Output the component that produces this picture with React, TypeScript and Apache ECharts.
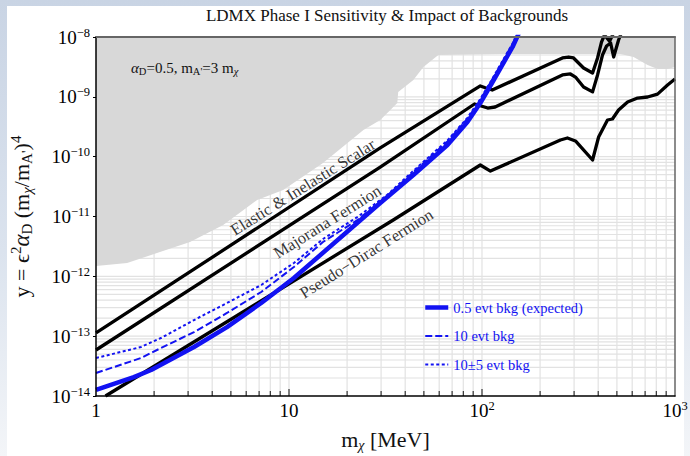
import React, { useEffect, useRef } from "react";
import * as echarts from "echarts";

const FONT = '"Liberation Serif", "DejaVu Serif", serif';
const BLUE = "#1212f2";

const X_MIN = 1;
const X_MAX = 1000;
const Y_MIN = 1e-14;
const Y_MAX = 1e-8;

// Thermal-relic targets, [m_chi (MeV), y]
const scalarCurve: [number, number][] = [
  [1, 1.13e-13], [29.7, 1.4e-10], [98, 1.52e-9], [104, 1.42e-9], [113, 1.3e-9],
  [261, 4.46e-9], [281, 4.63e-9], [298, 4.46e-9], [336, 3.03e-9], [374, 2.5e-9],
  [397, 4.46e-9], [416, 8.24e-9], [431, 1.08e-8], [458, 8.5e-9], [481, 1.17e-8],
];

const majoranaCurve: [number, number][] = [
  [1, 5.87e-14], [29.7, 6.71e-11], [91.4, 7.59e-10], [98, 7.1e-10], [107, 6.5e-10],
  [117, 6.76e-10], [261, 2.32e-9], [287, 2.41e-9], [305, 2.14e-9], [336, 1.46e-9],
  [374, 1.21e-9], [397, 2.32e-9], [421, 5.0e-9], [442, 7.08e-9], [464, 7.94e-9],
  [481, 4.63e-9], [510, 8.91e-9], [535, 1.31e-8],
];

const pseudoDiracCurve: [number, number][] = [
  [1.12, 1.0e-14], [34.7, 8.73e-12], [98, 7.26e-11], [110.6, 5.75e-11], [255, 1.9e-10],
  [277, 2.05e-10], [305, 1.83e-10], [374, 8.79e-11], [402, 2.13e-10], [447, 4.1e-10],
  [474, 4.26e-10], [510, 6.02e-10], [568, 8.2e-10], [640, 9.55e-10], [721, 9.93e-10],
  [812, 1.11e-9], [915, 1.58e-9], [1000, 1.99e-9],
];

// LDMX Phase I reach for different background levels
const bkgHalfEvent: [number, number][] = [
  [1, 1.26e-14], [1.57, 2.07e-14], [1.93, 2.72e-14], [3.22, 6.59e-14], [4.77, 1.42e-13],
  [7.18, 3.58e-13], [10.6, 9.37e-13], [29.7, 1.68e-11], [44.1, 4.93e-11], [66.2, 1.57e-10],
  [84, 3.79e-10], [98, 7.88e-10], [115, 1.91e-9], [129, 3.67e-9], [144, 6.81e-9], [158, 1.31e-8],
];

const bkgTenEvents: [number, number][] = [
  [1, 2.42e-14], [1.71, 4.31e-14], [2.17, 6.34e-14], [3.22, 1.17e-13], [4.77, 2.44e-13],
  [7.18, 5.47e-13], [10.6, 1.43e-12], [15, 3.75e-12], [22.6, 8.73e-12], [32.3, 2.2e-11],
  [44.1, 5.5e-11], [66.2, 1.8e-10], [84, 4.3e-10], [98, 8.9e-10], [115, 2.15e-9],
  [129, 4.1e-9], [144, 7.6e-9], [158, 1.45e-8],
];

const bkgTenPmFive: [number, number][] = [
  [1, 4.31e-14], [1.71, 6.59e-14], [2.17, 9.31e-14], [3.22, 1.86e-13], [4.77, 3.58e-13],
  [7.18, 7.16e-13], [10.6, 1.67e-12], [15, 4.21e-12], [22.6, 9.8e-12], [32.3, 2.3e-11],
  [44.1, 5.8e-11], [66.2, 1.87e-10], [84, 4.45e-10], [98, 9.2e-10], [115, 2.2e-9],
  [129, 4.2e-9], [144, 7.8e-9], [158, 1.5e-8],
];

// Lower edge of the already-excluded region
const excludedRegion: [number, number][] = [
  [1, 1.49e-12], [1.45, 1.67e-12], [2.07, 2.45e-12], [3.07, 3.75e-12], [4.56, 7.21e-12],
  [6.84, 1.89e-11], [9.33, 2.77e-11], [15, 7.83e-11], [24.3, 2.79e-10], [29.7, 4.1e-10],
  [33.5, 6.02e-10], [36.4, 7.88e-10], [36.8, 1.21e-9], [44.1, 1.91e-9], [49.7, 3.15e-9],
  [59.4, 5.0e-9], [124, 5.2e-9], [522, 5.2e-9], [610, 4.63e-9], [721, 3.4e-9],
  [812, 2.92e-9], [915, 2.92e-9], [1000, 3.15e-9],
];

const curveLabels = [
  { text: "Elastic & Inelastic Scalar", at: [11.8, 3.1e-11] },
  { text: "Majorana Fermion", at: [15.8, 8.2e-12] },
  { text: "Pseudo\u2212Dirac Fermion", at: [25.2, 2.4e-12] },
];

const legendNames = ["0.5 evt bkg (expected)", "10 evt bkg", "10\u00b15 evt bkg"];
const legendWidths = [4.5, 2, 2];

const mantissas = [1, 2, 3, 4, 5, 6, 7, 8, 9];
const xDecades = [1, 10, 100];
const yDecades = [1e-14, 1e-13, 1e-12, 1e-11, 1e-10, 1e-9];

const xGridLines = xDecades
  .flatMap((d) => mantissas.map((m) => m * d))
  .filter((v) => v > X_MIN && v < X_MAX);
const yGridLines = yDecades
  .flatMap((d) => mantissas.map((m) => m * d))
  .filter((v) => v > Y_MIN * 1.0001 && v < Y_MAX * 0.9999);

const powerRich = {
  sup: { fontSize: 12.5, lineHeight: 12, verticalAlign: "top", fontFamily: FONT, color: "#000" },
};

function powerLabel(v: number): string {
  const e = Math.round(Math.log10(v));
  if (e === 0) return "1";
  if (e === 1) return "10";
  return "10{sup|" + String(e).replace("-", "\u2212") + "}";
}

function isDecade(v: number): boolean {
  const l = Math.log10(v);
  return Math.abs(l - Math.round(l)) < 1e-9;
}

function lineSeries(name: string, data: [number, number][], color: string, width: number, type: any, z: number) {
  return {
    type: "line",
    name,
    data,
    symbol: "none",
    showSymbol: false,
    clip: true,
    silent: true,
    z,
    itemStyle: { color },
    lineStyle: { color, width, type, cap: "butt", join: "round" },
  };
}

export default function App() {
  const ref = useRef<HTMLDivElement>(null);

  useEffect(() => {
    if (!ref.current) return;
    const chart = echarts.init(ref.current, undefined, { renderer: "svg" });

    const option: any = {
      animation: false,
      backgroundColor: "transparent",
      grid: { left: 96, right: 15, top: 37, bottom: 60, show: false, containLabel: false, outerBoundsMode: "none" },
      legend: {
        data: legendNames.map((name, i) => ({ name, lineStyle: { width: legendWidths[i] } })),
        orient: "vertical",
        left: 418,
        top: 295,
        itemWidth: 23,
        itemHeight: 14,
        itemGap: 13.5,
        selectedMode: false,
        itemStyle: { opacity: 0 },
        textStyle: { color: BLUE, fontFamily: FONT, fontSize: 14.5 },
      },
      xAxis: [
        {
          type: "log",
          logBase: 10,
          min: X_MIN,
          max: X_MAX,
          splitNumber: 3,
          z: 10,
          axisLine: { show: true, lineStyle: { color: "#000", width: 1.5 } },
          axisTick: { show: false },
          splitLine: { show: false },
          axisLabel: {
            formatter: powerLabel,
            margin: 3,
            fontFamily: FONT,
            fontSize: 19,
            lineHeight: 22,
            color: "#000",
            rich: powerRich,
          },
          name: "m{sub|\u03c7} [MeV]",
          nameLocation: "middle",
          nameGap: 30,
          nameTextStyle: {
            fontFamily: FONT,
            fontSize: 22,
            lineHeight: 26,
            color: "#111",
            rich: {
              sub: { fontSize: 14, lineHeight: 12, verticalAlign: "bottom", fontStyle: "italic", fontFamily: FONT, color: "#111" },
            },
          },
        },
        {
          type: "log",
          logBase: 10,
          min: X_MIN,
          max: X_MAX,
          position: "top",
          z: 10,
          axisLine: { show: true, lineStyle: { color: "#666", width: 2 } },
          axisTick: { show: false },
          axisLabel: { show: false },
          splitLine: { show: false },
        },
      ],
      yAxis: [
        {
          type: "log",
          logBase: 10,
          min: Y_MIN,
          max: Y_MAX,
          splitNumber: 6,
          z: 10,
          axisLine: { show: true, lineStyle: { color: "#000", width: 1.5 } },
          axisTick: { show: true, inside: false, length: 3, lineStyle: { color: "#000", width: 1 } },
          splitLine: { show: false },
          axisLabel: {
            formatter: powerLabel,
            margin: 6,
            fontFamily: FONT,
            fontSize: 19,
            lineHeight: 22,
            color: "#000",
            rich: powerRich,
          },
          name: "y = \u03f5{sup|2}{it|\u03b1}{sub|D} (m{subi|\u03c7}/m{sub|A'}){sup|4}",
          nameLocation: "middle",
          nameRotate: 90,
          nameGap: 62,
          nameTextStyle: {
            fontFamily: FONT,
            fontSize: 22,
            lineHeight: 26,
            color: "#111",
            rich: {
              sup: { fontSize: 15, lineHeight: 12, verticalAlign: "top", fontFamily: FONT, color: "#111" },
              sub: { fontSize: 15, lineHeight: 12, verticalAlign: "bottom", fontFamily: FONT, color: "#111" },
              subi: { fontSize: 15, lineHeight: 12, verticalAlign: "bottom", fontStyle: "italic", fontFamily: FONT, color: "#111" },
              it: { fontSize: 23, lineHeight: 26, fontStyle: "italic", fontFamily: FONT, color: "#111" },
            },
          },
        },
        {
          type: "log",
          logBase: 10,
          min: Y_MIN,
          max: Y_MAX,
          position: "right",
          z: 10,
          axisLine: { show: true, lineStyle: { color: "#666", width: 1.5 } },
          axisTick: { show: false },
          axisLabel: { show: false },
          splitLine: { show: false },
        },
      ],
      graphic: [
        {
          type: "text",
          x: 387,
          y: 15,
          silent: true,
          style: {
            text: "LDMX Phase I Sensitivity & Impact of Backgrounds",
            align: "center",
            verticalAlign: "middle",
            fontFamily: FONT,
            fontSize: 17,
            fill: "#111",
          },
        },
        {
          type: "text",
          x: 131,
          y: 68,
          silent: true,
          z: 20,
          style: {
            text: "{it|\u03b1}{sub|D}=0.5, m{sub|A'}=3 m{subi|\u03c7}",
            verticalAlign: "middle",
            fontFamily: FONT,
            fontSize: 15,
            lineHeight: 18,
            fill: "#111",
            rich: {
              it: { fontSize: 15, lineHeight: 18, fontStyle: "italic", fontFamily: FONT, fill: "#111" },
              sub: { fontSize: 10.5, lineHeight: 9, verticalAlign: "bottom", fontFamily: FONT, fill: "#111" },
              subi: { fontSize: 10.5, lineHeight: 9, verticalAlign: "bottom", fontStyle: "italic", fontFamily: FONT, fill: "#111" },
            },
          },
        },
      ],
      series: [
        {
          type: "custom",
          name: "xGrid",
          silent: true,
          z: 1,
          data: xGridLines.map((v) => [v, Y_MIN]),
          renderItem: (_p: any, api: any) => {
            const v = api.value(0);
            const b = api.coord([v, Y_MIN]);
            const t = api.coord([v, Y_MAX]);
            const tick = isDecade(v) ? 7 : 5;
            return {
              type: "group",
              children: [
                { type: "line", shape: { x1: b[0], y1: b[1], x2: t[0], y2: t[1] }, style: { stroke: "#e2e2e2", lineWidth: 1.2 } },
                { type: "line", shape: { x1: b[0], y1: b[1], x2: b[0], y2: b[1] - tick }, style: { stroke: "#111", lineWidth: 1 } },
              ],
            };
          },
        },
        {
          type: "custom",
          name: "yGrid",
          silent: true,
          z: 1,
          data: yGridLines.map((v) => [X_MIN, v]),
          renderItem: (_p: any, api: any) => {
            const v = api.value(1);
            const l = api.coord([X_MIN, v]);
            const r = api.coord([X_MAX, v]);
            return { type: "line", shape: { x1: l[0], y1: l[1], x2: r[0], y2: r[1] }, style: { stroke: "#e2e2e2", lineWidth: 1.2 } };
          },
        },
        {
          type: "custom",
          name: "excluded",
          silent: true,
          z: 2,
          data: [[X_MIN, Y_MAX]],
          renderItem: (_p: any, api: any) => {
            const pts = excludedRegion.map((p) => api.coord(p));
            pts.push(api.coord([X_MAX, Y_MAX]), api.coord([X_MIN, Y_MAX]));
            return { type: "polygon", shape: { points: pts }, style: { fill: "#d8d8d8" } };
          },
        },
        lineSeries("Elastic & Inelastic Scalar", scalarCurve, "#000", 3.3, "solid", 3),
        lineSeries("Majorana Fermion", majoranaCurve, "#000", 3.3, "solid", 3),
        lineSeries("Pseudo-Dirac Fermion", pseudoDiracCurve, "#000", 3.3, "solid", 3),
        lineSeries(legendNames[2], bkgTenPmFive, BLUE, 2, [3, 2.5], 4),
        lineSeries(legendNames[1], bkgTenEvents, BLUE, 2, [7, 3], 4),
        lineSeries(legendNames[0], bkgHalfEvent, BLUE, 4.5, "solid", 5),
        {
          type: "scatter",
          name: "curveLabels",
          silent: true,
          z: 6,
          symbolSize: 0,
          data: curveLabels.map((c) => ({ name: c.text, value: c.at })),
          label: {
            show: true,
            position: "inside",
            rotate: 32,
            formatter: "{b}",
            fontFamily: FONT,
            fontSize: 16.5,
            color: "#000",
          },
        },
      ],
    };

    chart.setOption(option);
    return () => chart.dispose();
  }, []);

  return (
    <div
      style={{
        position: "absolute",
        left: 0,
        top: 0,
        width: 690,
        height: 456,
        overflow: "hidden",
        background: "linear-gradient(180deg, #c9d4e4 0%, #dbe3ee 55%, #f3f5f8 100%)",
      }}
    >
      <div style={{ position: "absolute", left: 7, top: 6, width: 677, height: 450, background: "#fff" }} />
      <div ref={ref} style={{ position: "absolute", left: 0, top: 0, width: 690, height: 456 }} />
    </div>
  );
}
